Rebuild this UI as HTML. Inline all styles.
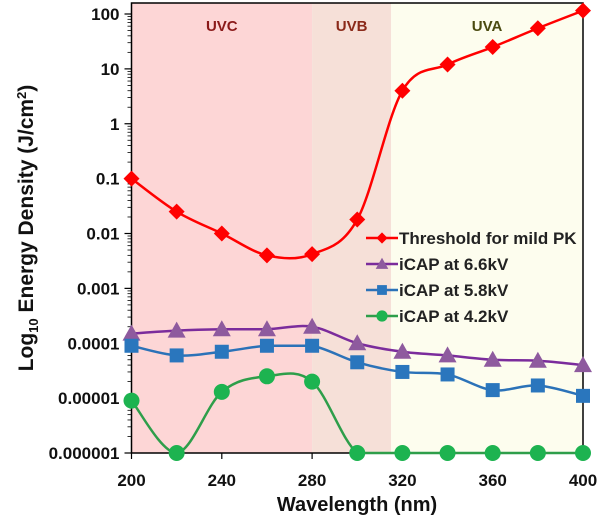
<!DOCTYPE html>
<html><head><meta charset="utf-8"><style>
body{margin:0;background:#fff}
svg text{font-family:"Liberation Sans",sans-serif;font-weight:bold}
</style></head><body>
<svg id="c" width="600" height="516"></svg>
<script>
const wavelengths=[200,220,240,260,280,300,320,340,360,380,400];
const threshold=[0.1,0.025,0.01,0.004,0.0042,0.018,4,12,25,55,115];
const cap66=[0.00015,0.00017,0.00018,0.00018,0.0002,0.0001,0.00007,0.00006,0.00005,0.000048,0.00004];
const cap58=[0.00009,0.00006,0.00007,0.00009,0.00009,0.000045,0.00003,0.000027,0.000014,0.000017,0.000011];
const cap42=[0.000009,0.000001,0.000013,0.000025,0.00002,0.000001,0.000001,0.000001,0.000001,0.000001,0.000001];
const yTicks=["0.000001","0.00001","0.0001","0.001","0.01","0.1","1","10","100"];
const xTicks=[200,240,280,320,360,400];
const bands=[{n:"UVC",a:200,b:280,c:"#fdd6d6",t:"#8b1a1a"},{n:"UVB",a:280,b:315,c:"#f6e0d8",t:"#8b2a1a"},{n:"UVA",a:315,b:400,c:"#fdfdee",t:"#4a4a10"}];
const NS="http://www.w3.org/2000/svg";
const svg=document.getElementById('c');
const L=131.5,R=583,T=3,B=453;
const x=v=>L+(v-200)*(R-L)/200;
const y=v=>B-(Math.log10(v)+6)*(B-14)/8;
function el(t,a,p){const e=document.createElementNS(NS,t);for(const k in a)e.setAttribute(k,a[k]);(p||svg).appendChild(e);return e;}
bands.forEach(b=>{
 const r=el('rect',{x:x(b.a),y:T,width:x(b.b)-x(b.a),height:B-T,fill:b.c});
 
 
 const t=el('text',{x:(x(b.a)+x(b.b))/2,y:31,'text-anchor':'middle',fill:b.t,'font-size':15});
 t.textContent=b.n;
 
 
});
yTicks.forEach((s,i)=>{
 const v=+s,py=y(v);
 el('line',{x1:L-7,x2:L,y1:py,y2:py,stroke:'#000','stroke-width':1.2});
 if(i<8)for(let m=2;m<10;m++){const my=y(v*m);el('line',{x1:L-4,x2:L,y1:my,y2:my,stroke:'#000','stroke-width':0.8});}
 const t=el('text',{x:L-12,y:py+6,'text-anchor':'end','font-size':17,fill:'#111'});t.textContent=s;
 
 
});
xTicks.forEach(v=>{
 el('line',{x1:x(v),x2:x(v),y1:B,y2:B+6,stroke:'#000','stroke-width':1.2});
 const t=el('text',{x:x(v),y:486,'text-anchor':'middle','font-size':17,fill:'#111'});t.textContent=v;
 
 
});
el('rect',{x:L,y:T,width:R-L,height:B-T,fill:'none',stroke:'#000','stroke-width':1.5});
const xt=el('text',{x:357,y:511,'text-anchor':'middle','font-size':20,fill:'#111'});xt.textContent='Wavelength (nm)';


const yt=el('text',{transform:'translate(33,228) rotate(-90)','text-anchor':'middle','font-size':21,fill:'#111'});
yt.innerHTML='Log<tspan font-size="13" dy="5">10</tspan><tspan dy="-5"> Energy Density (J/cm</tspan><tspan font-size="13" dy="-7">2</tspan><tspan dy="7">)</tspan>';


function path(vals){
 const p=vals.map((v,i)=>[x(wavelengths[i]),y(v)]);
 const cl=v=>Math.min(v,B);
 let d='M'+p[0][0]+','+p[0][1];
 for(let i=0;i<p.length-1;i++){
  const p0=p[i-1]||p[i],p1=p[i],p2=p[i+1],p3=p[i+2]||p2;
  let c1=[p1[0]+(p2[0]-p0[0])/6,cl(p1[1]+(p2[1]-p0[1])/6)],c2=[p2[0]-(p3[0]-p1[0])/6,cl(p2[1]-(p3[1]-p1[1])/6)];
  if(p1[1]===p2[1]){c1[1]=p1[1];c2[1]=p2[1];}
  d+=`C${c1[0]},${c1[1]} ${c2[0]},${c2[1]} ${p2[0]},${p2[1]}`;
 }
 return d;
}
function marker(g,type,cx,cy,c){
 if(type==='d')return el('path',{d:`M${cx},${cy-8}L${cx+8},${cy}L${cx},${cy+8}L${cx-8},${cy}Z`,fill:c},g);
 if(type==='t')return el('path',{d:`M${cx},${cy-9}L${cx+9},${cy+7}L${cx-9},${cy+7}Z`,fill:c},g);
 if(type==='s')return el('rect',{x:cx-7,y:cy-7,width:14,height:14,fill:c},g);
 return el('circle',{cx,cy,r:8,fill:c},g);
}
const series=[
 {n:'threshold',vals:threshold,c:'#ff0000',mc:'#ff0000',m:'d',lab:'Threshold for mild PK'},
 {n:'icap-6-6kv',vals:cap66,c:'#7b2c9c',mc:'#8e5a9e',m:'t',lab:'iCAP at 6.6kV'},
 {n:'icap-5-8kv',vals:cap58,c:'#2b72b8',mc:'#2a76bd',m:'s',lab:'iCAP at 5.8kV'},
 {n:'icap-4-2kv',vals:cap42,c:'#2e9e4a',mc:'#1db350',m:'c',lab:'iCAP at 4.2kV'}
];
series.forEach((s,k)=>{
 const g=el('g',{});
 
 
 el('path',{d:path(s.vals),fill:'none',stroke:s.c,'stroke-width':2.5},g);
 s.vals.forEach((v,i)=>{const m=marker(g,s.m,x(wavelengths[i]),y(v),s.mc);
  
  });
 const ly=238+k*26;
 const lg=el('g',{});
 
 
 el('line',{x1:366,x2:398,y1:ly,y2:ly,stroke:s.c,'stroke-width':2.5},lg);
 marker(lg,s.m,382,ly,s.mc).setAttribute('transform',`translate(${382*0.3},${ly*0.3}) scale(0.7)`);
 const t=el('text',{x:399,y:ly+6,'font-size':17,fill:'#222'},lg);t.textContent=s.lab;
});
</script>
</body></html>
